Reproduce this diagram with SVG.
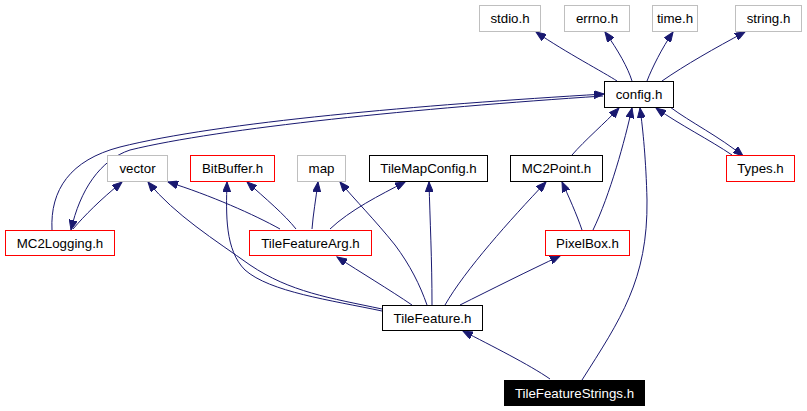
<svg xmlns="http://www.w3.org/2000/svg" width="807" height="411" viewBox="0 0 807 411">
<style>
rect{fill:#fff;stroke-width:1}
.k{stroke:#000}
.r{stroke:#ff0000}
.g{stroke:#bfbfbf}
.s{fill:#000;stroke:#000}
text{font-family:"Liberation Sans",Arial,sans-serif;font-size:13.3px;text-anchor:middle;fill:#000}
.w{fill:#fff}
#edges path{fill:none;stroke:#191970;stroke-width:1;marker-end:url(#a)}
</style>
<defs>
<marker id="a" markerUnits="userSpaceOnUse" markerWidth="11" markerHeight="8" refX="10" refY="4" orient="auto">
<path d="M0,0 L10,4 L0,8 z" fill="#191970" stroke="#191970" stroke-width="1"/>
</marker>
</defs>
<rect width="807" height="411" fill="#fff" style="stroke:none"/>
<g id="edges">
<path d="M617,81 C605,73 565,52 536,32"/>
<path d="M632,81 C628,68 618,50 605,32"/>
<path d="M647,81 C652,68 662,48 673,32"/>
<path d="M662,81 C685,65 715,48 745,32"/>
<path d="M572,155 C585,140 605,123 619,108"/>
<path d="M593,230 C610,195 625,140 632,108"/>
<path d="M582,380 C620,320 648,280 647,200 C646,160 643,130 640,108"/>
<path d="M732,155 C710,140 680,125 656,108"/>
<path d="M670,107 C690,122 720,137 743,156"/>
<path d="M52,230 C50,190 70,160 120,147 C220,122 420,105 604,94"/>
<path d="M603,96 C420,108 220,128 130,150 C100,160 80,190 71,230"/>
<path d="M73,229 C85,215 100,200 122,182"/>
<path d="M280,229 C255,215 210,195 168,182"/>
<path d="M296,229 C285,215 265,198 247,182"/>
<path d="M312,229 C313,215 316,198 318,182"/>
<path d="M330,229 C350,210 380,195 405,182"/>
<path d="M382,309 C330,298 290,292 250,265 C215,240 175,215 148,182"/>
<path d="M382,311 C330,300 270,292 245,270 C225,250 226,215 227,182"/>
<path d="M412,305 C390,290 360,272 337,257"/>
<path d="M427,305 C420,285 410,265 395,245 C375,220 355,200 340,182"/>
<path d="M432,305 C432,260 430,220 429,182"/>
<path d="M445,305 C465,270 510,220 546,182"/>
<path d="M460,305 C490,290 530,270 560,256"/>
<path d="M582,230 C577,215 568,195 562,182"/>
<path d="M550,379 C530,365 490,345 463,331"/>
</g>
<g id="stdio"><rect class="g" x="479.5" y="5.5" width="61" height="26"/><text x="510" y="23">stdio.h</text></g>
<g id="errno"><rect class="g" x="564.5" y="5.5" width="65" height="26"/><text x="597" y="23">errno.h</text></g>
<g id="time"><rect class="g" x="652.5" y="5.5" width="45" height="26"/><text x="675" y="23">time.h</text></g>
<g id="string"><rect class="g" x="735.5" y="5.5" width="66" height="26"/><text x="768.5" y="23">string.h</text></g>
<g id="config"><rect class="k" x="604.5" y="81.5" width="69" height="26"/><text x="639" y="99">config.h</text></g>
<g id="vector"><rect class="g" x="107.5" y="155.5" width="60" height="26"/><text x="137.5" y="173">vector</text></g>
<g id="bitbuffer"><rect class="r" x="190.5" y="155.5" width="84" height="26"/><text x="232.5" y="173">BitBuffer.h</text></g>
<g id="map"><rect class="g" x="297.5" y="155.5" width="48" height="26"/><text x="321.5" y="173">map</text></g>
<g id="tilemapconfig"><rect class="k" x="369.5" y="155.5" width="118" height="26"/><text x="428.5" y="173">TileMapConfig.h</text></g>
<g id="mc2point"><rect class="k" x="510.5" y="155.5" width="92" height="26"/><text x="556.5" y="173">MC2Point.h</text></g>
<g id="types"><rect class="r" x="726.5" y="155.5" width="68" height="26"/><text x="760.5" y="173">Types.h</text></g>
<g id="mc2logging"><rect class="r" x="5.5" y="230.5" width="109" height="25"/><text x="60" y="247.5">MC2Logging.h</text></g>
<g id="tilefeaturearg"><rect class="r" x="249.5" y="230.5" width="122" height="25"/><text x="310.5" y="247.5">TileFeatureArg.h</text></g>
<g id="pixelbox"><rect class="r" x="545.5" y="230.5" width="84" height="25"/><text x="587.5" y="247.5">PixelBox.h</text></g>
<g id="tilefeature"><rect class="k" x="382.5" y="305.5" width="100" height="25"/><text x="432.5" y="322.5">TileFeature.h</text></g>
<g id="tilefeaturestrings"><rect class="s" x="504.5" y="380.5" width="140" height="25"/><text class="w" x="574.5" y="397.5">TileFeatureStrings.h</text></g>
</svg>
